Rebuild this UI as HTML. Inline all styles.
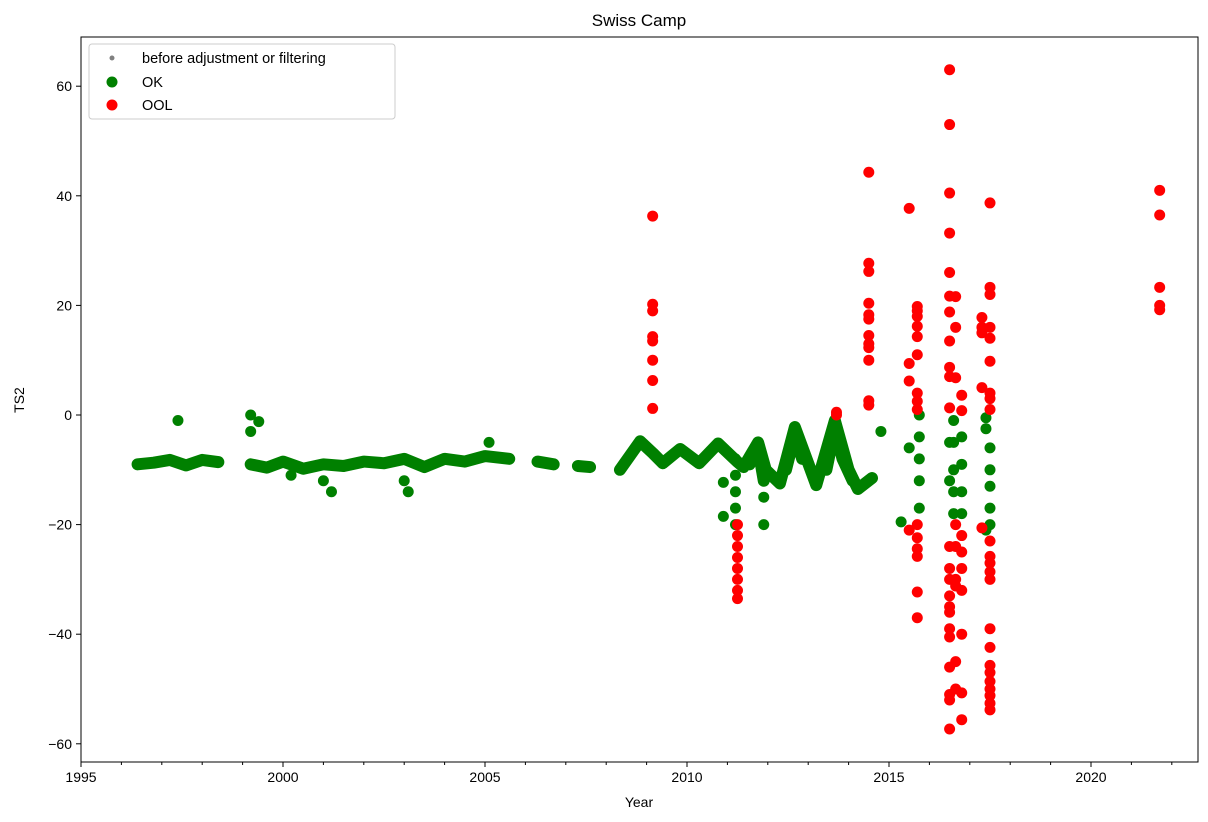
<!DOCTYPE html>
<html><head><meta charset="utf-8">
<style>
body{margin:0;background:#fff;}
svg{display:block;font-family:"Liberation Sans","DejaVu Sans",sans-serif;}
</style></head>
<body>
<svg id="chart" width="1208" height="822">
<text x="639" y="26" font-size="17" text-anchor="middle">Swiss Camp</text>
<g id="plot"></g>
<rect x="81" y="37" width="1117" height="725" fill="none" stroke="#000" stroke-width="1"/>
<g id="axes"></g>
<text x="639" y="807" font-size="14" text-anchor="middle">Year</text>
<text x="24" y="400" font-size="14" text-anchor="middle" transform="rotate(-90 24 400)">TS2</text>
<g>
<rect x="89" y="44" width="306" height="75" rx="3" fill="#fff" stroke="#ccc"/>
<circle cx="112" cy="58" r="2.5" fill="#808080"/>
<text x="142" y="63" font-size="14.5">before adjustment or filtering</text>
<circle cx="112" cy="82" r="5.5" fill="green"/>
<text x="142" y="87" font-size="14.5">OK</text>
<circle cx="112" cy="105" r="5.5" fill="red"/>
<text x="142" y="110" font-size="14.5">OOL</text>
</g>
</svg>
<script>
const xTicks=[1995,2000,2005,2010,2015,2020];
const yTicks=[60,40,20,0,-20,-40,-60];
// OK (green) continuous segments: [year, value]
const okSegments=[
[[1996.4,-9],[1996.8,-8.7],[1997.2,-8.2],[1997.6,-9.2],[1998.0,-8.2],[1998.4,-8.6]],
[[1999.2,-9],[1999.6,-9.6],[2000,-8.5],[2000.5,-9.8],[2001,-9],[2001.5,-9.3],[2002,-8.5],[2002.5,-8.8],[2003,-8],[2003.5,-9.5],[2004,-8],[2004.5,-8.5],[2005,-7.5],[2005.6,-8]],
[[2006.3,-8.5],[2006.7,-9]],
[[2007.3,-9.3],[2007.6,-9.5]],
[[2008.34,-10],[2008.84,-4.8],[2009.16,-7],[2009.4,-8.8],[2009.83,-6.2],[2010.3,-8.8],[2010.77,-5.2],[2011.24,-8.5],[2011.4,-9.5],[2011.76,-5],[2011.95,-10],[2012.3,-12.5],[2012.67,-2.2],[2013.2,-12.8],[2013.66,-1],[2014.0,-10],[2014.23,-13.5],[2014.58,-11.5]],
[[2011.55,-9],[2011.76,-6],[2011.9,-12]],
[[2012.45,-10],[2012.67,-3.5],[2012.85,-8]],
[[2013.45,-10],[2013.66,-2.5],[2013.85,-8],[2014.1,-12]]
];
const okYears=[1997.4,1999.2,1999.2,1999.4,2000.2,2001.2,2001.0,2003.1,2003.0,2005.1,2010.9,2010.9,2011.2,2011.2,2011.2,2011.2,2011.2,2011.9,2011.9,2011.9,2014.8,2015.3,2015.5,2015.75,2015.75,2015.75,2015.75,2015.75,2016.5,2016.5,2016.6,2016.6,2016.6,2016.6,2016.6,2016.8,2016.8,2016.8,2016.8,2017.4,2017.4,2017.4,2017.5,2017.5,2017.5,2017.5,2017.5];
const okValues=[-1,0,-3,-1.2,-11,-14,-12,-14,-12,-5,-18.5,-12.3,-8,-11,-14,-17,-20,-10,-15,-20,-3,-19.5,-6,0,-4,-8,-12,-17,-5,-12,-1,-5,-10,-14,-18,-4,-9,-14,-18,-0.5,-2.5,-21,-6,-10,-13,-17,-20];
const oolYears=[2009.15,2009.15,2009.15,2009.15,2009.15,2009.15,2009.15,2009.15,
2011.25,2011.25,2011.25,2011.25,2011.25,2011.25,2011.25,2011.25,
2013.7,2013.7,
2014.5,2014.5,2014.5,2014.5,2014.5,2014.5,2014.5,2014.5,2014.5,2014.5,2014.5,2014.5,
2015.5,2015.5,2015.5,2015.5,
2015.7,2015.7,2015.7,2015.7,2015.7,2015.7,2015.7,2015.7,2015.7,2015.7,2015.7,2015.7,2015.7,2015.7,2015.7,
2016.5,2016.5,2016.5,2016.5,2016.5,2016.5,2016.5,2016.5,2016.5,2016.5,2016.5,2016.5,2016.5,2016.5,2016.5,2016.5,2016.5,2016.5,2016.5,2016.5,2016.5,2016.5,2016.5,
2016.65,2016.65,2016.65,2016.65,2016.65,2016.65,2016.65,2016.65,2016.65,
2016.8,2016.8,2016.8,2016.8,2016.8,2016.8,2016.8,2016.8,2016.8,
2017.3,2017.3,2017.3,2017.3,2017.3,
2017.5,2017.5,2017.5,2017.5,2017.5,2017.5,2017.5,2017.5,2017.5,2017.5,2017.5,2017.5,2017.5,2017.5,2017.5,2017.5,2017.5,2017.5,2017.5,2017.5,2017.5,2017.5,2017.5,
2021.7,2021.7,2021.7,2021.7,2021.7];
const oolValues=[36.3,20.2,19,14.3,13.5,10,6.3,1.2,
-20,-22,-24,-26,-28,-30,-32,-33.5,
0.5,0,
44.3,27.7,26.2,20.4,18.3,17.5,14.5,13,12.3,10,2.6,1.8,
37.7,9.4,6.2,-21,
16.2,19.8,19,18,14.3,11,4,2.5,1,-20,-22.4,-24.4,-25.8,-32.3,-37,
63,53,40.5,33.2,26,21.7,18.8,13.5,8.7,7,1.3,-24,-28,-30,-33,-35,-36,-39,-40.5,-46,-51,-52,-57.3,
21.6,16,6.8,-20,-24,-30,-31.2,-45,-50,
3.6,0.8,-22,-25,-28,-32,-40,-50.7,-55.6,
17.8,16,15,5,-20.6,
38.7,23.3,22,16,14,9.8,4,3,1,-23,-25.8,-27,-28.6,-30,-39,-42.4,-45.7,-47,-48.6,-50,-51.2,-52.6,-53.8,
41,36.5,23.3,20,19.2];

const NS='http://www.w3.org/2000/svg';
const X=y=>81+(y-1995)*40.4;
const Y=v=>415-v*5.48;
const plot=document.getElementById('plot');
const axes=document.getElementById('axes');
function mk(tag,attrs,parent){const e=document.createElementNS(NS,tag);for(const k in attrs)e.setAttribute(k,attrs[k]);parent.appendChild(e);return e;}

okSegments.forEach((seg,i)=>{
  const p=mk('polyline',{points:seg.map(d=>X(d[0])+','+Y(d[1])).join(' '),fill:'none',stroke:'green','stroke-width':12,'stroke-linecap':'round','stroke-linejoin':'round'},plot);
  
  
});
okYears.forEach((yr,i)=>{
  const c=mk('circle',{cx:X(yr),cy:Y(okValues[i]),r:5.5,fill:'green'},plot);
  
  
});
oolYears.forEach((yr,i)=>{
  const c=mk('circle',{cx:X(yr),cy:Y(oolValues[i]),r:5.5,fill:'red'},plot);
  
  
});
for(let yr=1995;yr<=2022;yr++){
  const major=xTicks.includes(yr);
  const t=mk('line',{x1:X(yr),x2:X(yr),y1:762,y2:762+(major?5:3),stroke:'#000'},axes);
  
  
}
xTicks.forEach(v=>{
  const t=mk('text',{x:X(v),y:782,'font-size':14,'text-anchor':'middle'},axes);
  t.textContent=v;
  
  
});
yTicks.forEach(v=>{
  const l=mk('line',{x1:76,x2:81,y1:Y(v),y2:Y(v),stroke:'#000'},axes);
  
  
  const t=mk('text',{x:72,y:Y(v)+5,'font-size':14,'text-anchor':'end'},axes);
  t.textContent=v<0?'\u2212'+(-v):v;
  
  
});
</script>
</body></html>
